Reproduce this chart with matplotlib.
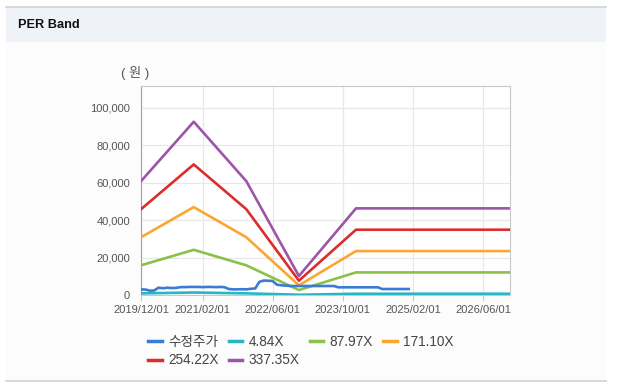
import numpy as np
import pandas as pd
import matplotlib
matplotlib.use("Agg")
import matplotlib.pyplot as plt
import matplotlib.dates as mdates
from matplotlib.patches import Rectangle
from matplotlib.lines import Line2D
from matplotlib.ticker import FuncFormatter

# EPS knots (won) behind the PER bands
eps_dates = ["2019-12-01", "2020-12-01", "2021-12-01", "2022-12-01", "2024-01-01", "2026-12-01"]
eps_values = [180, 274, 180, 30, 137, 137]

per_multiples = [4.84, 87.97, 171.10, 254.22, 337.35]
per_labels = ["4.84X", "87.97X", "171.10X", "254.22X", "337.35X"]

# adjusted price (수정주가), monthly
price_dates = pd.date_range("2019-12-01", "2025-01-01", freq="MS")
price_values = [3000, 2900, 2300, 2400, 3900, 3600, 3900, 3700, 3800, 4200, 4200, 4300,
                4300, 4300, 4200, 4300, 4300, 4200, 4300, 4200, 3200, 3000, 3000, 3100,
                3000, 3300, 3500, 7000, 7700, 7600, 7500, 5500, 5200, 5000, 4800, 4800,
                4800, 4800, 4800, 4800, 4800, 4800, 4800, 4800, 4800, 4100, 4100, 4100,
                4100, 4100, 4100, 4100, 4100, 4100, 4100, 3200, 3200, 3200, 3200, 3200,
                3200, 3200]

tick_dates = ["2019-12-01", "2021-02-01", "2022-06-01", "2023-10-01", "2025-02-01", "2026-06-01"]

price_color = "#3a7bd5"
band_colors = ["#27b6c6", "#8cc04a", "#fba630", "#dd2c2c", "#9c55a8"]

FONTS = ["Liberation Sans", "Noto Sans CJK KR", "DejaVu Sans"]
plt.rcParams["font.family"] = FONTS

W, H = 617, 385
fig = plt.figure(figsize=(W / 100, H / 100), dpi=100)
fig.patch.set_facecolor("white")

def px(x, y):
    return x / W, 1 - y / H

# panel + header
fig.patches.append(Rectangle(px(6, 380), 600 / W, 374 / H, transform=fig.transFigure,
                             facecolor="#fcfcfc", edgecolor="none", zorder=-2))
fig.patches.append(Rectangle(px(6, 42), 600 / W, 35 / H, transform=fig.transFigure,
                             facecolor="#eff3f8", edgecolor="none", zorder=-1))
fig.lines.append(Line2D([6 / W, 606 / W], [1 - 6.5 / H] * 2, transform=fig.transFigure,
                        color="#d2d2d2", lw=1.2))
fig.lines.append(Line2D([6 / W, 606 / W], [1 - 380.5 / H] * 2, transform=fig.transFigure,
                        color="#d2d2d2", lw=1.2))
fig.text(*px(18, 25), "PER Band", fontsize=9.2, fontweight="bold", color="#111111",
         va="center", ha="left")

ax = fig.add_axes([141 / W, (385 - 295) / H, 369 / W, 209 / H])
ax.set_facecolor("white")

eps_x = pd.to_datetime(eps_dates)
eps = np.array(eps_values, dtype=float)
for m, c in zip(per_multiples, band_colors):
    ax.plot(eps_x, eps * m, color=c, lw=1.9, zorder=3)
ax.plot(price_dates, price_values, color=price_color, lw=1.9, zorder=4)

ax.set_xlim(pd.Timestamp("2019-12-01"), pd.Timestamp("2026-12-05"))
ax.set_ylim(0, 111500)
ax.set_yticks(range(0, 100001, 20000))
ax.yaxis.set_major_formatter(FuncFormatter(lambda v, p: f"{int(v):,}"))
ax.set_xticks(pd.to_datetime(tick_dates))
ax.xaxis.set_major_formatter(mdates.DateFormatter("%Y/%m/%d"))

ax.grid(True, color="#e8e8e8", lw=0.9)
ax.set_axisbelow(True)
for side in ["top", "right", "bottom"]:
    ax.spines[side].set_color("#c8c8c8")
ax.spines["left"].set_color("#a0a0a0")
ax.tick_params(axis="y", length=0, pad=8, labelsize=8, labelcolor="#555555")
ax.tick_params(axis="x", length=4, color="#c8c8c8", pad=3, labelsize=8, labelcolor="#555555")

fig.text(*px(135, 73), "( 원 )", fontsize=9.5, color="#555555", ha="center", va="center")

handles = [Line2D([], [], color=price_color, lw=2.5)]
labels = ["수정주가"]
for c, l in zip(band_colors, per_labels):
    handles.append(Line2D([], [], color=c, lw=2.5))
    labels.append(l)
# legend fills column by column; reorder so it reads row by row
order = [0, 4, 1, 5, 2, 3]
leg = fig.legend([handles[i] for i in order], [labels[i] for i in order], ncol=4,
                 loc="upper left", bbox_to_anchor=px(136, 323), frameon=False,
                 handlelength=1.0, handletextpad=0.45, columnspacing=0.75,
                 labelspacing=0.3, prop={"family": FONTS, "size": 9.8})
for t in leg.get_texts():
    t.set_color("#444444")

fig.savefig("out.png", dpi=100)
